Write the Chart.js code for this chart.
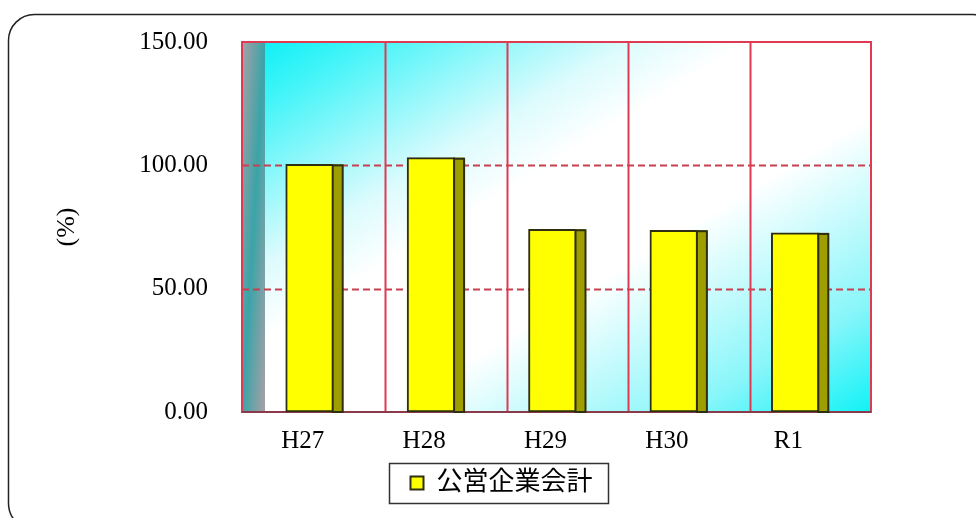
<!DOCTYPE html>
<html lang="ja">
<head>
<meta charset="utf-8">
<script src="https://cdn.jsdelivr.net/npm/chart.js@4.4.1/dist/chart.umd.min.js"></script>
<style>
  html, body { margin: 0; padding: 0; background: #fff; }
  #ratioChart { display: block; }
</style>
</head>
<body>
<canvas id="ratioChart" width="976" height="518"></canvas>
<script>
const years = ["H27", "H28", "H29", "H30", "R1"];
const ratios = [100.4, 103.1, 74.1, 73.7, 72.6];
const seriesName = "公営企業会計";
const yTicks = [0, 50, 100, 150];

const depth = 22;      // how far the back wall sits right of the front plane
const barShift = 7;    // bars stand a bit behind the front plane
const sideWidth = 10;  // visible side face of each bar
const serif = "'Liberation Serif', 'Noto Sans CJK JP', serif";

Chart.defaults.color = "#000";

// fixed axis sizes, no extra room for overhanging labels
function fixWidth(w) {
  return scale => {
    scale.width = w;
    scale.paddingTop = 0;
    scale.paddingBottom = 0;
  };
}

const wallPlugin = {
  id: "wall",
  beforeDraw(chart) {
    const ctx = chart.ctx;
    ctx.save();
    ctx.fillStyle = "#fff";
    ctx.fillRect(0, 0, chart.width, chart.height);
    // rounded frame; right and bottom edges run off the canvas
    ctx.beginPath();
    ctx.roundRect(8.5, 14.5, 990, 515, 26);
    ctx.strokeStyle = "#222";
    ctx.lineWidth = 1.5;
    ctx.stroke();
    ctx.restore();
  },
  beforeDatasetsDraw(chart) {
    const { ctx, chartArea: a, scales: { x, y } } = chart;
    const backLeft = a.left + depth;
    const backRight = a.right + depth;
    const h = a.bottom - a.top;
    ctx.save();

    // back wall: cyan corners fading to white along the diagonal
    ctx.save();
    ctx.translate(backLeft, a.top);
    ctx.scale(backRight - backLeft, h);
    let g = ctx.createLinearGradient(0, 0, 1, 1);
    g.addColorStop(0, "#10f0f6");
    g.addColorStop(0.08, "#40f4f8");
    g.addColorStop(0.3, "#dcfbfd");
    g.addColorStop(0.4, "#ffffff");
    g.addColorStop(0.6, "#ffffff");
    g.addColorStop(0.85, "#88f6fa");
    g.addColorStop(1, "#10f2f6");
    ctx.fillStyle = g;
    ctx.fillRect(0, 0, 1, 1);
    ctx.restore();

    // left side wall
    ctx.save();
    ctx.translate(a.left, a.top);
    ctx.scale(depth + 1, h);
    g = ctx.createLinearGradient(0, 0, 1, 1);
    g.addColorStop(0, "#a8a0a6");
    g.addColorStop(0.5, "#3aa4a8");
    g.addColorStop(1, "#a8a0a6");
    ctx.fillStyle = g;
    ctx.fillRect(0, 0, 1, 1);
    ctx.restore();

    // dashed value lines
    ctx.strokeStyle = "#c8404f";
    ctx.lineWidth = 2;
    ctx.setLineDash([7, 4]);
    yTicks.forEach(v => {
      if (v === y.min || v === y.max) return;
      const py = Math.round(y.getPixelForValue(v)) + 0.5;
      ctx.beginPath();
      ctx.moveTo(a.left, py);
      ctx.lineTo(backRight, py);
      ctx.stroke();
    });
    ctx.setLineDash([]);

    // category dividers on the back wall
    ctx.strokeStyle = "#e03a52";
    for (let i = 0; i < years.length - 1; i++) {
      const px = Math.round((x.getPixelForValue(i) + x.getPixelForValue(i + 1)) / 2 + depth) + 0.5;
      ctx.beginPath();
      ctx.moveTo(px, a.top);
      ctx.lineTo(px, a.bottom);
      ctx.stroke();
    }

    // outline of the plot
    ctx.strokeRect(a.left, a.top, backRight - a.left, h);
    ctx.strokeStyle = "#8a3a4a";
    ctx.beginPath();
    ctx.moveTo(a.left, a.bottom);
    ctx.lineTo(backRight, a.bottom);
    ctx.stroke();
    ctx.restore();
  },
  beforeDatasetDraw(chart) {
    chart.ctx.save();
    chart.ctx.translate(barShift, 0);
  },
  afterDatasetDraw(chart, args) {
    const ctx = chart.ctx;
    args.meta.data.forEach(bar => {
      const { x, y, width, base } = bar.getProps(["x", "y", "width", "base"], true);
      const sx = x + width / 2 - 1;
      ctx.fillStyle = "#9e9e00";
      ctx.fillRect(sx, y, sideWidth, base - y);
      ctx.strokeStyle = "#2e2e12";
      ctx.lineWidth = 2;
      ctx.strokeRect(sx, y + 1, sideWidth, base - y - 1);
    });
    ctx.restore();
  },
  afterDraw(chart) {
    const box = chart.legend.legendHitBoxes[0];
    if (!box) return;
    const ctx = chart.ctx;
    const cx = box.left + box.width / 2 - 4;
    const cy = box.top + box.height / 2;
    ctx.save();
    ctx.strokeStyle = "#333";
    ctx.lineWidth = 1.5;
    ctx.strokeRect(Math.round(cx - 109) + 0.5, Math.round(cy - 20) + 0.5, 219, 40);
    ctx.restore();
  }
};

new Chart(document.getElementById("ratioChart"), {
  type: "bar",
  data: {
    labels: years,
    datasets: [{
      label: seriesName,
      data: ratios,
      backgroundColor: "#ffff00",
      borderColor: "#2e2e12",
      borderWidth: 2,
      borderSkipped: false,
      barThickness: 48,
      clip: false
    }]
  },
  options: {
    responsive: false,
    animation: false,
    layout: { padding: { left: 27, right: 0, top: 42, bottom: 12 } },
    plugins: {
      tooltip: { enabled: false },
      legend: {
        position: "bottom",
        labels: {
          boxWidth: 13,
          boxHeight: 13,
          padding: 10,
          font: { family: serif, size: 26 }
        }
      }
    },
    scales: {
      x: {
        grid: { display: false, drawTicks: false },
        border: { display: false },
        ticks: { padding: 14, font: { family: serif, size: 25 } },
        afterFit(scale) { scale.height = 48; }
      },
      y: {
        min: 0,
        max: 150,
        afterBuildTicks(scale) { scale.ticks = yTicks.map(v => ({ value: v })); },
        grid: { display: false, drawTicks: false },
        border: { display: false },
        ticks: {
          padding: 34,
          font: { family: serif, size: 25 },
          callback: v => v.toFixed(2)
        },
        title: {
          display: true,
          text: "(%)",
          font: { family: serif, size: 26 },
          padding: { top: 25, bottom: 0 }
        },
        afterFit: fixWidth(215)
      },
      side: {
        position: "right",
        grid: { display: false, drawTicks: false },
        border: { display: false },
        ticks: { display: false },
        afterFit: fixWidth(127)
      }
    }
  },
  plugins: [wallPlugin]
});
</script>
</body>
</html>
